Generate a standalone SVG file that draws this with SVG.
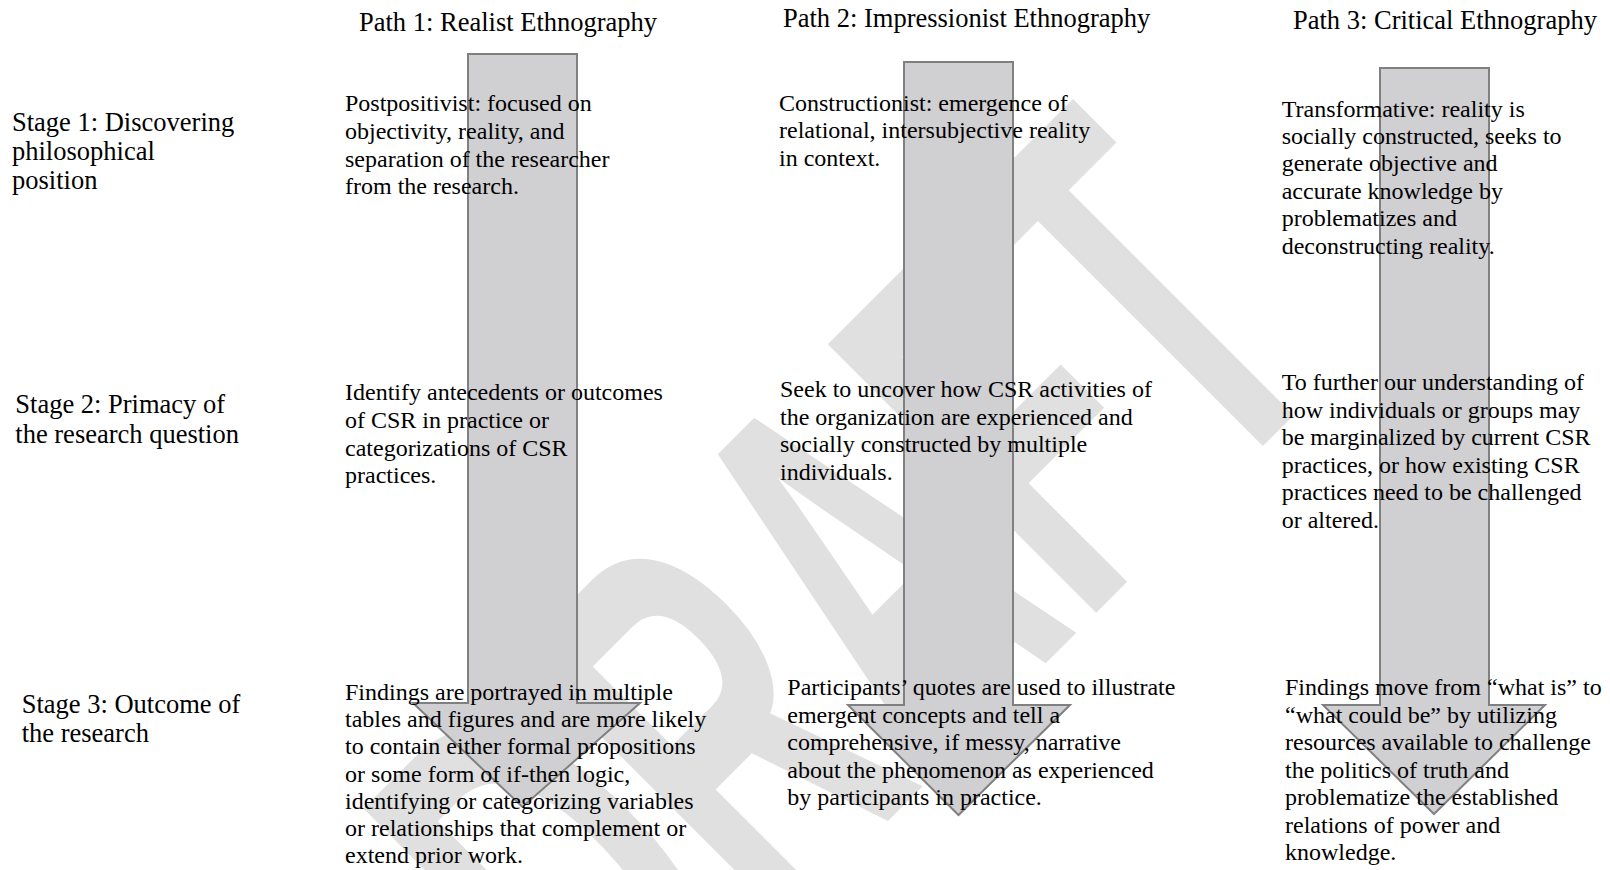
<svg xmlns="http://www.w3.org/2000/svg" width="1610" height="870" viewBox="0 0 1610 870">
<style>
.t{font-family:"Liberation Serif","Times New Roman",serif;font-size:24px;fill:#000}
.h{font-family:"Liberation Serif","Times New Roman",serif;font-size:26.5px;fill:#000}
.arr{fill:#d0cfd2;stroke:#808080;stroke-width:2}
.wm{font-family:"Liberation Sans",Arial,sans-serif;font-weight:bold;font-size:360px;fill:#e0e0e0}
</style>
<rect width="1610" height="870" fill="#fff"/>
<g id="watermark">
<text class="wm" transform="translate(617.6,1091.4) rotate(-45) scale(0.842,1.533)">DRAFT</text>
</g>
<g id="connectors">
<path id="arrow1" class="arr" d="M468,54 H577 V703 H640 L522.5,807 L413,703 H468 Z"/>
<path id="arrow2" class="arr" d="M904,62 H1013 V705 H1070 L958.5,815 L848,705 H904 Z"/>
<path id="arrow3" class="arr" d="M1380,68 H1489 V705 H1545 L1434,814 L1323,705 H1380 Z"/>
</g>
<g id="title1"><text class="h" x="359" y="30.7">Path 1: Realist Ethnography</text></g>
<g id="title2"><text class="h" x="783" y="26.7">Path 2: Impressionist Ethnography</text></g>
<g id="title3"><text class="h" x="1293" y="29">Path 3: Critical Ethnography</text></g>
<g id="stage1"><text class="h"><tspan x="12" y="130.7">Stage 1: Discovering</tspan><tspan x="12" y="160">philosophical</tspan><tspan x="12" y="189.3">position</tspan></text></g>
<g id="stage2"><text class="h"><tspan x="15.3" y="413.3">Stage 2: Primacy of</tspan><tspan x="15.3" y="443.3">the research question</tspan></text></g>
<g id="stage3"><text class="h"><tspan x="21.7" y="713.3">Stage 3: Outcome of</tspan><tspan x="21.7" y="741.7">the research</tspan></text></g>
<g id="p1s1"><text class="t"><tspan x="345" y="111">Postpositivist: focused on</tspan><tspan x="345" y="138.8">objectivity, reality, and</tspan><tspan x="345" y="166.6">separation of the researcher</tspan><tspan x="345" y="194.4">from the research.</tspan></text></g>
<g id="p2s1"><text class="t"><tspan x="779" y="110.5">Constructionist: emergence of</tspan><tspan x="779" y="138.2">relational, intersubjective reality</tspan><tspan x="779" y="166">in context.</tspan></text></g>
<g id="p3s1"><text class="t"><tspan x="1281.7" y="116.5">Transformative: reality is</tspan><tspan x="1281.7" y="143.9">socially constructed, seeks to</tspan><tspan x="1281.7" y="171.3">generate objective and</tspan><tspan x="1281.7" y="198.7">accurate knowledge by</tspan><tspan x="1281.7" y="226.1">problematizes and</tspan><tspan x="1281.7" y="253.5">deconstructing reality.</tspan></text></g>
<g id="p1s2"><text class="t"><tspan x="345" y="400">Identify antecedents or outcomes</tspan><tspan x="345" y="427.8">of CSR in practice or</tspan><tspan x="345" y="455.6">categorizations of CSR</tspan><tspan x="345" y="483.4">practices.</tspan></text></g>
<g id="p2s2"><text class="t"><tspan x="780" y="397">Seek to uncover how CSR activities of</tspan><tspan x="780" y="424.7">the organization are experienced and</tspan><tspan x="780" y="452.4">socially constructed by multiple</tspan><tspan x="780" y="480">individuals.</tspan></text></g>
<g id="p3s2"><text class="t"><tspan x="1281.7" y="390">To further our understanding of</tspan><tspan x="1281.7" y="417.6">how individuals or groups may</tspan><tspan x="1281.7" y="445.2">be marginalized by current CSR</tspan><tspan x="1281.7" y="472.8">practices, or how existing CSR</tspan><tspan x="1281.7" y="500.4">practices need to be challenged</tspan><tspan x="1281.7" y="528">or altered.</tspan></text></g>
<g id="p1s3"><text class="t"><tspan x="345" y="700">Findings are portrayed in multiple</tspan><tspan x="345" y="727.2">tables and figures and are more likely</tspan><tspan x="345" y="754.4">to contain either formal propositions</tspan><tspan x="345" y="781.6">or some form of if-then logic,</tspan><tspan x="345" y="808.8">identifying or categorizing variables</tspan><tspan x="345" y="836">or relationships that complement or</tspan><tspan x="345" y="863.2">extend prior work.</tspan></text></g>
<g id="p2s3"><text class="t"><tspan x="787.3" y="695">Participants’ quotes are used to illustrate</tspan><tspan x="787.3" y="722.5">emergent concepts and tell a</tspan><tspan x="787.3" y="750">comprehensive, if messy, narrative</tspan><tspan x="787.3" y="777.5">about the phenomenon as experienced</tspan><tspan x="787.3" y="805">by participants in practice.</tspan></text></g>
<g id="p3s3"><text class="t"><tspan x="1285" y="695">Findings move from “what is” to</tspan><tspan x="1285" y="722.5">“what could be” by utilizing</tspan><tspan x="1285" y="750">resources available to challenge</tspan><tspan x="1285" y="777.5">the politics of truth and</tspan><tspan x="1285" y="805">problematize the established</tspan><tspan x="1285" y="832.5">relations of power and</tspan><tspan x="1285" y="860">knowledge.</tspan></text></g>
</svg>
